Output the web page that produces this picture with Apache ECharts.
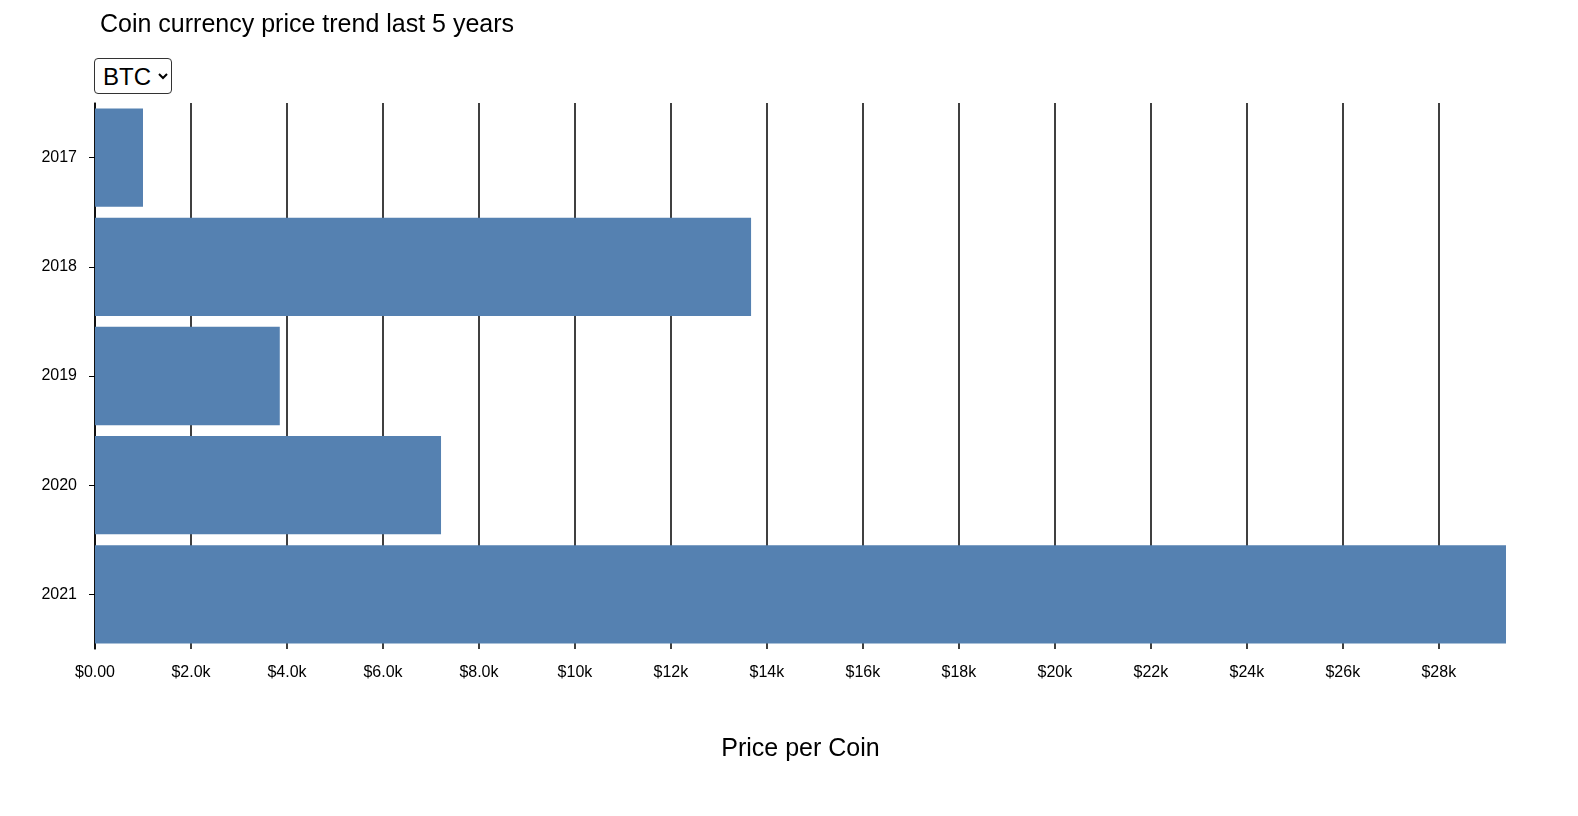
<!DOCTYPE html>
<html>
<head>
<meta charset="utf-8">
<script src="https://cdn.jsdelivr.net/npm/echarts@6/dist/echarts.min.js"></script>
<style>
  body { margin: 0; background: #fff; font-family: "Liberation Sans", Arial, sans-serif; }
  #chart { width: 1578px; height: 816px; }
  #coin { position: absolute; left: 94px; top: 58px; height: 36px; font-size: 24px; font-family: "Liberation Sans", Arial, sans-serif;
          border: 1px solid #333; border-radius: 4px; background: #fff; padding: 0 4px; }
</style>
</head>
<body>
<div id="chart"></div>
<select id="coin"><option>BTC</option><option>ETH</option></select>
<script>
const years = ['2017', '2018', '2019', '2020', '2021'];
const prices = [1000, 13670, 3850, 7210, 29400];

const chart = echarts.init(document.getElementById('chart'));

function fmt(v) {
  if (v === 0) return '$0.00';
  if (v < 10000) return '$' + (v / 1000).toFixed(1) + 'k';
  return '$' + Math.round(v / 1000) + 'k';
}

chart.setOption({
  animation: false,
  title: {
    text: 'Coin currency price trend last 5 years',
    left: 95, top: 8,
    textStyle: { fontSize: 25, fontWeight: 'normal', color: '#000', fontFamily: 'Liberation Sans' }
  },
  grid: { left: 95, right: 72, top: 103, bottom: 167 },
  xAxis: {
    type: 'value',
    min: 0, max: Math.max(...prices), interval: 2000,
    name: 'Price per Coin', nameLocation: 'middle', nameGap: 88,
    nameTextStyle: { fontSize: 25, color: '#000', fontFamily: 'Liberation Sans' },
    axisLine: { show: false },
    axisTick: { show: false },
    axisLabel: { formatter: fmt, showMaxLabel: false, fontSize: 16, color: '#000', margin: 16, fontFamily: 'Liberation Sans' },
    splitLine: { show: true, showMaxLine: false, lineStyle: { color: '#000', width: 1.5 } }
  },
  yAxis: {
    type: 'category',
    data: years,
    inverse: true,
    axisLine: { show: true, lineStyle: { color: '#000', width: 1.5 } },
    axisTick: { show: true, alignWithLabel: true, length: 6, lineStyle: { color: '#000' } },
    axisLabel: { fontSize: 16, color: '#000', margin: 18, fontFamily: 'Liberation Sans' }
  },
  series: [{
    type: 'bar',
    data: prices,
    barCategoryGap: '10%',
    itemStyle: { color: '#5581b1' }
  }]
});
</script>
</body>
</html>
